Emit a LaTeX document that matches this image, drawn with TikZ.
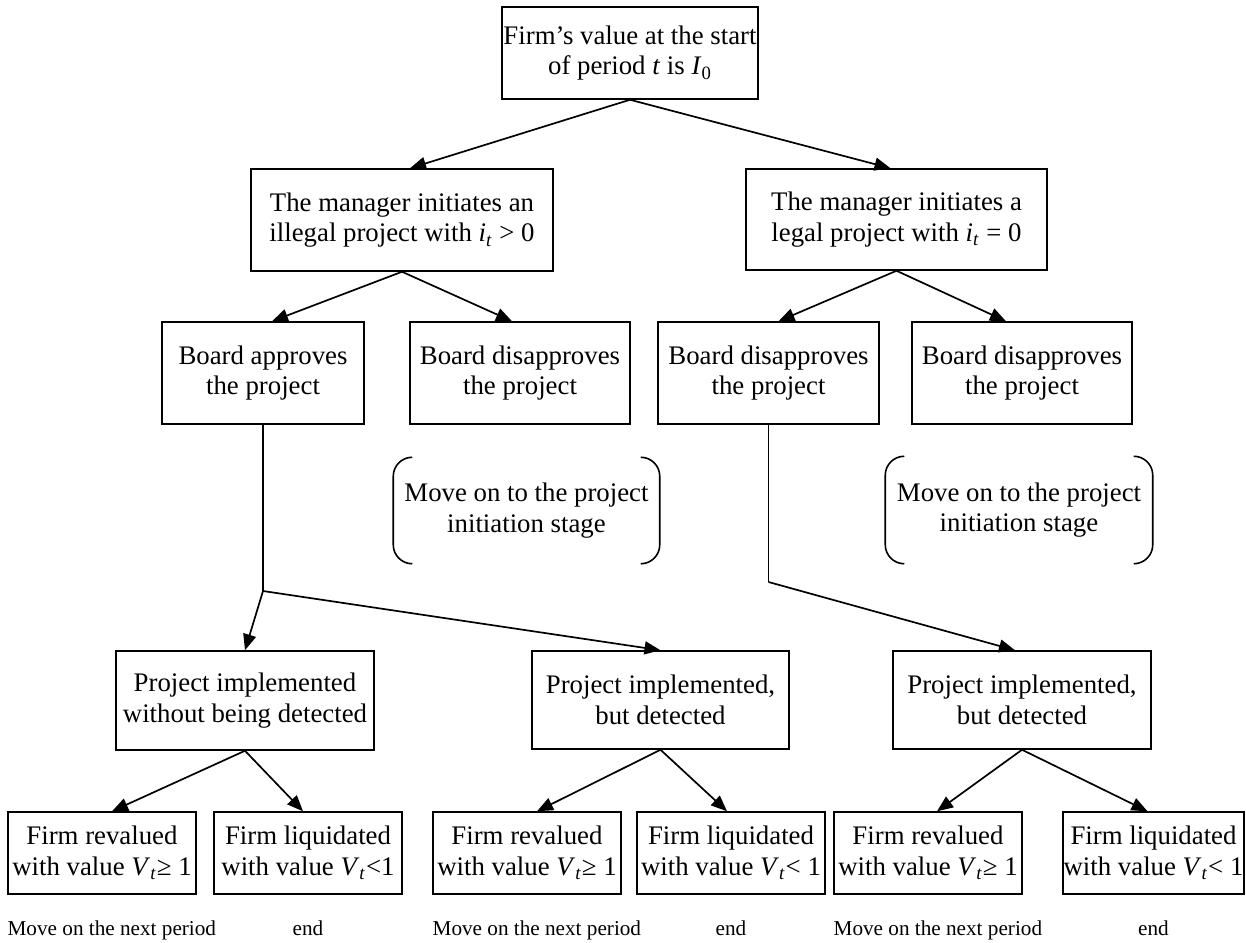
\documentclass[tikz,border=0pt]{standalone}
\usepackage{fontspec}
\setmainfont{Liberation Serif}
\usetikzlibrary{arrows.meta,positioning}
\newcommand{\mvar}[1]{\textit{#1}}

\tikzset{
  stage/.style={draw=black, line width=0.75pt, align=center, inner sep=0pt,
    font=\fontsize{13.4}{15.3}\selectfont},
  bottom/.style={draw=black, line width=0.75pt, align=center, inner sep=0pt,
    minimum width=94pt, minimum height=41pt, font=\fontsize{13.4}{15.3}\selectfont},
  note/.style={inner sep=0pt, font=\fontsize{10.6}{12}\selectfont},
  flow/.style={-{Triangle[length=8pt,width=6.5pt]}, line width=0.85pt},
  bracket/.style={line width=0.8pt, rounded corners=9.5pt}
}

\begin{document}
\begin{tikzpicture}[x=0.5pt, y=-0.5pt]
    \useasboundingbox (0,0) rectangle (1246,942);

    \node[stage, minimum width=128pt, minimum height=46pt] (start) at (630,53) {Firm's value at the start\\of period \mvar{t} is \mvar{I}\textsubscript{0}};

    \node[stage, minimum width=151pt, minimum height=51pt] (ml) at (402,220) {The manager initiates an\\illegal project with \mvar{i}\textsubscript{\mvar{t}} > 0};
    \node[stage, minimum width=150.5pt, minimum height=50.5pt] (mr) at (896.5,219.5) {The manager initiates a\\legal project with \mvar{i}\textsubscript{\mvar{t}} = 0};

    \node[stage, minimum width=101pt, minimum height=51pt] (B1) at (263,373) {Board approves\\the project};
    \node[stage, minimum width=110pt, minimum height=51pt] (B2) at (520,373) {Board disapproves\\the project};
    \node[stage, minimum width=110.5pt, minimum height=51pt] (B3) at (768.5,373) {Board disapproves\\the project};
    \node[stage, minimum width=110pt, minimum height=51pt] (B4) at (1022,373) {Board disapproves\\the project};

    \node[stage, draw=none, minimum width=132.5pt, minimum height=52.5pt] (br1) at (526.5,510.5) {Move on to the project\\initiation stage};
    \node[stage, draw=none, minimum width=133pt, minimum height=53pt] (br2) at (1019,510) {Move on to the project\\initiation stage};

    \node[stage, minimum width=129pt, minimum height=49.5pt] (P1) at (245,700.5) {Project implemented\\without being detected};
    \node[stage, minimum width=128.5pt, minimum height=49pt] (P2) at (660.5,700) {Project implemented,\\but detected};
    \node[stage, minimum width=129pt, minimum height=49pt] (P3) at (1022,700) {Project implemented,\\but detected};

    \node[bottom] (F1) at (102,853) {Firm revalued\\with value \mvar{V}\textsubscript{\mvar{t}}≥ 1};
    \node[bottom] (F2) at (308,853) {Firm liquidated\\with value \mvar{V}\textsubscript{\mvar{t}}<1};
    \node[bottom] (F3) at (527,853) {Firm revalued\\with value \mvar{V}\textsubscript{\mvar{t}}≥ 1};
    \node[bottom] (F4) at (731,853) {Firm liquidated\\with value \mvar{V}\textsubscript{\mvar{t}}< 1};
    \node[bottom] (F5) at (928,853) {Firm revalued\\with value \mvar{V}\textsubscript{\mvar{t}}≥ 1};
    \node[bottom, minimum width=90.5pt] (F6) at (1153.5,853) {Firm liquidated\\with value \mvar{V}\textsubscript{\mvar{t}}< 1};

    \node[note, below right=13pt and 0pt of F1.south west] (n1) {Move on the next period};
    \node[note, below=13pt of F2] (n2) {end};
    \node[note, below right=13pt and 0pt of F3.south west] (n3) {Move on the next period};
    \node[note, below=13pt of F4] (n4) {end};
    \node[note, below right=13pt and 0pt of F5.south west] (n5) {Move on the next period};
    \node[note, below=13pt of F6] (n6) {end};

    % brackets round the two notes
    \draw[bracket] ([xshift=9.5pt]br1.north west) -- (br1.north west) -- (br1.south west) -- ([xshift=9.5pt]br1.south west);
    \draw[bracket] ([xshift=-9.5pt]br1.north east) -- (br1.north east) -- (br1.south east) -- ([xshift=-9.5pt]br1.south east);
    \draw[bracket] ([xshift=9.5pt]br2.north west) -- (br2.north west) -- (br2.south west) -- ([xshift=9.5pt]br2.south west);
    \draw[bracket] ([xshift=-9.5pt]br2.north east) -- (br2.north east) -- (br2.south east) -- ([xshift=-9.5pt]br2.south east);

    \coordinate (j1) at (B1.south |- 0,591);
    \coordinate (j2) at (B3.south |- 0,582);

    \path [flow] (start.south) edge ([xshift=4pt]ml.north);
    \path [flow] (start.south) edge ([xshift=-3pt]mr.north);
    \path [flow] (ml.south) edge ([xshift=4.5pt]B1.north);
    \path [flow] (ml.south) edge ([xshift=-4pt]B2.north);
    \path [flow] (mr.south) edge ([xshift=5pt]B3.north);
    \path [flow] (mr.south) edge ([xshift=-8pt]B4.north);

    \draw [line width=0.85pt] (B1.south) -- (j1);
    \path [flow] (j1) edge (P1.north);
    \path [flow] (j1) edge (P2.north);
    \draw [line width=0.85pt] (B3.south) -- (j2);
    \path [flow] (j2) edge ([xshift=-3.5pt]P3.north);

    \path [flow] (P1.south) edge ([xshift=5pt]F1.north);
    \path [flow] (P1.south) edge ([xshift=-2.5pt]F2.north);
    \path [flow] (P2.south) edge ([xshift=5pt]F3.north);
    \path [flow] (P2.south) edge ([xshift=-2pt]F4.north);
    \path [flow] (P3.south) edge ([xshift=4.5pt]F5.north);
    \path [flow] (P3.south) edge ([xshift=-3pt]F6.north);

\end{tikzpicture}
\end{document}
